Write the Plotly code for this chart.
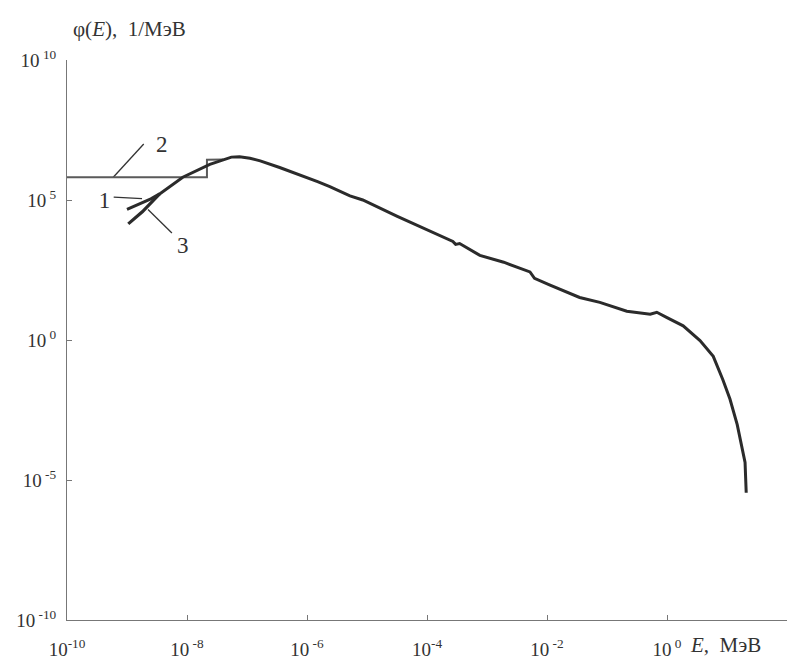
import plotly.graph_objects as go

# ---- data ----
# main spectrum (curve 1, continued as the common curve)
E_main = [1.0e-9, 1.6e-9, 2.5e-9, 3.5e-9, 8.5e-9, 2.4e-8, 4.0e-8, 5.5e-8, 7.5e-8,
          1.12e-7, 1.66e-7, 3.5e-7, 1.5e-6, 2.4e-6, 5.2e-6, 8.5e-6, 3.2e-5, 1.1e-4,
          2.7e-4, 3.0e-4, 3.5e-4, 7.6e-4, 1.9e-3, 5.2e-3, 6.2e-3, 1.1e-2, 3.5e-2,
          7.6e-2, 2.14e-1, 5.25e-1, 6.76e-1, 1.0e0, 1.86e0, 3.55e0, 5.9e0, 8.5e0,
          1.12e1, 1.48e1, 1.86e1, 2.0e1, 2.09e1]
phi_main = [4.6e4, 7.1e4, 1.1e5, 1.65e5, 6.5e5, 1.86e6, 2.8e6, 3.4e6, 3.5e6,
            3.1e6, 2.5e6, 1.45e6, 4.5e5, 3.0e5, 1.4e5, 1.0e5, 2.6e4, 7.8e3,
            3.3e3, 2.6e3, 2.8e3, 1.05e3, 6.0e2, 2.7e2, 1.6e2, 9.3e1, 3.3e1,
            2.2e1, 1.07e1, 8.3e0, 9.8e0, 6.3e0, 3.2e0, 9.5e-1, 2.6e-1, 3.9e-2,
            7.8e-3, 9.5e-4, 8.5e-5, 4.2e-5, 3.5e-6]
# curve 3: start of the spectrum, until it joins the common curve
E_3 = [1.05e-9, 1.8e-9, 3.5e-9]
phi_3 = [1.4e4, 3.8e4, 1.65e5]
# curve 2: group (histogram) spectrum at low energies
E_2 = [1.0e-10, 2.15e-8, 2.15e-8, 4.0e-8]
phi_2 = [6.5e5, 6.5e5, 2.75e6, 2.8e6]

x_ticks = [1e-10, 1e-8, 1e-6, 1e-4, 1e-2, 1e0]
x_labels = ["10<sup>-10</sup>", "10<sup> -8</sup>", "10<sup> -6</sup>",
            "10<sup>-4</sup>", "10<sup> -2</sup>", "10<sup> 0</sup>"]
y_ticks = [1e-10, 1e-5, 1e0, 1e5, 1e10]
y_labels = ["10<sup> -10</sup>", "10<sup> -5</sup>", "10<sup> 0</sup>",
            "10<sup> 5</sup>", "10<sup> 10</sup>"]

# curve labels: text, its position, and its leader line (E0, phi0, E1, phi1)
label_text = ["2", "1", "3"]
label_E = [3.8e-9, 4.2e-10, 8.5e-9]
label_phi = [8.5e6, 8.5e4, 2.0e3]
leader_E0 = [5.9e-10, 6.0e-10, 2.24e-9]
leader_phi0 = [6.5e5, 1.26e5, 4.6e4]
leader_E1 = [1.9e-9, 1.78e-9, 5.6e-9]
leader_phi1 = [1.0e7, 1.12e5, 6.6e3]

FONT = "Liberation Serif"
INK = "#2b2b2b"

fig = go.Figure()
for i in range(len(label_text)):
    fig.add_trace(go.Scatter(x=[leader_E0[i], leader_E1[i]], y=[leader_phi0[i], leader_phi1[i]],
                             mode="lines", line=dict(color="#333", width=1.3), hoverinfo="skip"))
fig.add_trace(go.Scatter(x=E_2, y=phi_2, mode="lines",
                         line=dict(color="#5a5a5a", width=2), hoverinfo="skip"))
fig.add_trace(go.Scatter(x=E_3, y=phi_3, mode="lines",
                         line=dict(color=INK, width=3.2), hoverinfo="skip"))
fig.add_trace(go.Scatter(x=E_main, y=phi_main, mode="lines",
                         line=dict(color=INK, width=3), hoverinfo="skip"))
fig.add_trace(go.Scatter(x=label_E, y=label_phi, mode="text", text=label_text,
                         textposition="middle center",
                         textfont=dict(family=FONT, size=23, color="#333"), hoverinfo="skip"))

fig.add_annotation(xref="paper", yref="paper", x=0.862, y=-0.045,
                   xanchor="left", yanchor="middle", showarrow=False,
                   text="<i>E</i>,  МэВ", font=dict(family=FONT, size=21, color="#333"))
fig.add_annotation(xref="paper", yref="paper", x=0.006, y=1.055,
                   xanchor="left", yanchor="middle", showarrow=False,
                   text="φ(<i>E</i>),  1/МэВ", font=dict(family=FONT, size=21, color="#333"))

fig.update_layout(
    width=797, height=670,
    margin=dict(l=67, r=10, t=60, b=37),
    paper_bgcolor="white", plot_bgcolor="white",
    showlegend=False,
    font=dict(family=FONT, size=19, color="#333"),
)
fig.update_xaxes(type="log", range=[-10, 2], tickvals=x_ticks, ticktext=x_labels,
                 showgrid=False, zeroline=False, showline=True, linecolor="#777",
                 linewidth=1, ticks="inside", ticklen=5, tickcolor="#777",
                 ticklabelstandoff=12, tickfont=dict(family=FONT, size=19, color="#333"))
fig.update_yaxes(type="log", range=[-10, 10], tickvals=y_ticks, ticktext=y_labels,
                 showgrid=False, zeroline=False, showline=True, linecolor="#777",
                 linewidth=1, ticks="inside", ticklen=5, tickcolor="#777",
                 ticklabelstandoff=6, tickfont=dict(family=FONT, size=19, color="#333"))

fig.write_html("out.html")
